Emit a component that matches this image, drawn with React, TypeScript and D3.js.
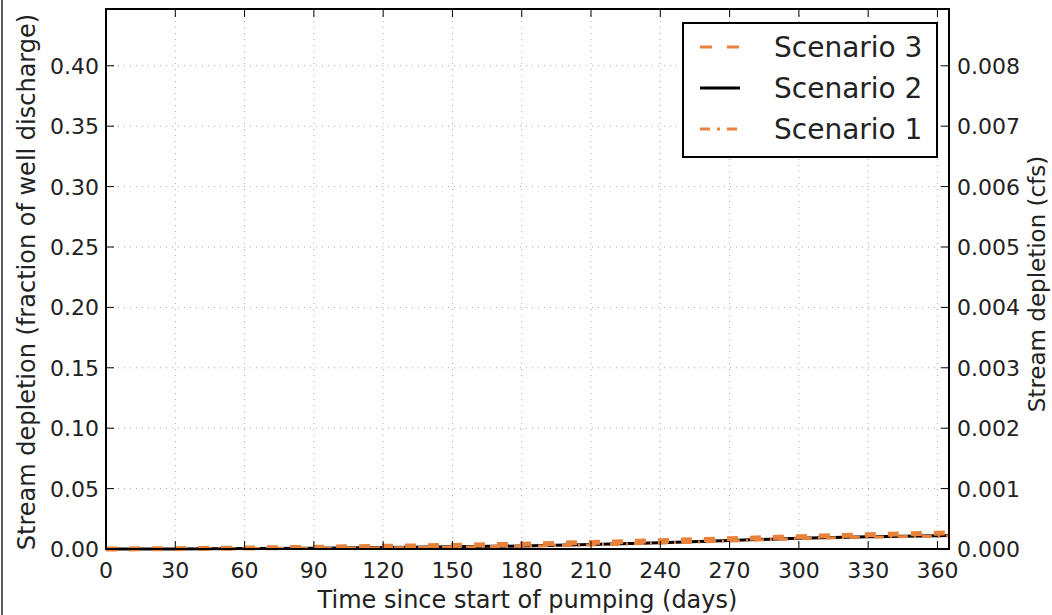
import React from "react";
import * as d3 from "d3";

// values
const days = [0, 30, 60, 90, 120, 150, 180, 210, 240, 270, 300, 330, 360, 365];
const scenario3 = [0, 0.0003, 0.0008, 0.0014, 0.0022, 0.003, 0.004, 0.0054, 0.0069, 0.0085, 0.0102, 0.0118, 0.0131, 0.0133];
const scenario2 = [0, 0.0001, 0.0004, 0.0007, 0.0012, 0.0018, 0.0025, 0.0037, 0.0052, 0.007, 0.009, 0.0102, 0.011, 0.0111];
const scenario1 = [0, 0.0001, 0.0003, 0.0006, 0.001, 0.0016, 0.0023, 0.0034, 0.0049, 0.0066, 0.0086, 0.0098, 0.0106, 0.0107];
const xTicks = [0, 30, 60, 90, 120, 150, 180, 210, 240, 270, 300, 330, 360];
const yTicks = [0, 0.05, 0.1, 0.15, 0.2, 0.25, 0.3, 0.35, 0.4];
const cfsTicks = [0, 0.001, 0.002, 0.003, 0.004, 0.005, 0.006, 0.007, 0.008];
const cfsFactor = 0.02;

const W = 1052;
const H = 615;
const left = 106;
const right = 949;
const top = 9;
const bottom = 549;
const orange = "#e8823a";
const font = "'DejaVu Sans', sans-serif";

const series = [
  { name: "Scenario 3", values: scenario3, color: orange, width: 5, dash: "11,12" },
  { name: "Scenario 2", values: scenario2, color: "#000", width: 3, dash: "" },
  { name: "Scenario 1", values: scenario1, color: orange, width: 3, dash: "10,6,2,6" },
];

export default function App() {
  const x = d3.scaleLinear().domain([0, 365]).range([left, right]);
  const y = d3.scaleLinear().domain([0, 0.447]).range([bottom, top]);
  const y2 = d3.scaleLinear().domain([0, 0.447 * cfsFactor]).range([bottom, top]);
  const line = (vals: number[]) =>
    d3.line<number>().x((_, i) => x(days[i])).y((d) => y(d))(vals) || "";

  const drawOrder = [series[1], series[2], series[0]];

  return (
    <svg width={W} height={H} style={{ position: "absolute", left: 0, top: 0, background: "#fff" }}>
      <rect x={0} y={0} width={W} height={H} fill="#fff" />
      <line x1={2} x2={2} y1={0} y2={H} stroke="#222" strokeWidth={1.5} />

      {/* grid */}
      {xTicks.map((t) => (
        <line key={"gx" + t} x1={x(t)} x2={x(t)} y1={top} y2={bottom} stroke="#aaa" strokeWidth={1} strokeDasharray="1,5" />
      ))}
      {yTicks.map((t) => (
        <line key={"gy" + t} x1={left} x2={right} y1={y(t)} y2={y(t)} stroke="#aaa" strokeWidth={1} strokeDasharray="1,5" />
      ))}

      {/* lines */}
      {drawOrder.map((s) => (
        <path key={s.name} d={line(s.values)} fill="none" stroke={s.color} strokeWidth={s.width} strokeDasharray={s.dash || undefined} />
      ))}

      {/* ticks */}
      {xTicks.map((t) => (
        <g key={"tx" + t}>
          <line x1={x(t)} x2={x(t)} y1={bottom} y2={bottom - 8} stroke="#000" strokeWidth={1} />
          <line x1={x(t)} x2={x(t)} y1={top} y2={top + 8} stroke="#000" strokeWidth={1} />
          <text x={x(t)} y={bottom + 29} textAnchor="middle" fontFamily={font} fontSize={22} fill="#222">{t}</text>
        </g>
      ))}
      {yTicks.map((t) => (
        <g key={"ty" + t}>
          <line x1={left} x2={left + 8} y1={y(t)} y2={y(t)} stroke="#000" strokeWidth={1} />
          <text x={left - 7} y={y(t) + 8} textAnchor="end" fontFamily={font} fontSize={22} fill="#222">{t.toFixed(2)}</text>
        </g>
      ))}
      {cfsTicks.map((t) => (
        <g key={"tc" + t}>
          <line x1={right} x2={right - 8} y1={y2(t)} y2={y2(t)} stroke="#000" strokeWidth={1} />
          <text x={right + 8} y={y2(t) + 8} textAnchor="start" fontFamily={font} fontSize={22} fill="#222">{t.toFixed(3)}</text>
        </g>
      ))}

      <rect x={left} y={top} width={right - left} height={bottom - top} fill="none" stroke="#000" strokeWidth={2} />

      {/* axis labels */}
      <text x={(left + right) / 2} y={608} textAnchor="middle" fontFamily={font} fontSize={24} fill="#222">
        Time since start of pumping (days)
      </text>
      <text transform={`translate(35,${(top + bottom) / 2 + 3}) rotate(-90)`} textAnchor="middle" fontFamily={font} fontSize={24} fill="#222">
        Stream depletion (fraction of well discharge)
      </text>
      <text transform={`translate(1045,${(top + bottom) / 2 + 5}) rotate(-90)`} textAnchor="middle" fontFamily={font} fontSize={23} fill="#222">
        Stream depletion (cfs)
      </text>

      {/* legend */}
      <rect x={683} y={23} width={254} height={134} fill="#fff" stroke="#000" strokeWidth={2} />
      {series.map((s, i) => {
        const cy = 47 + i * 41;
        return (
          <g key={"lg" + s.name}>
            <line x1={700} x2={740} y1={cy} y2={cy} stroke={s.color} strokeWidth={s.width === 5 ? 3 : s.width} strokeDasharray={s.dash ? (s.width === 5 ? "12,15" : "10,7,3,7") : undefined} />
            <text x={774} y={cy + 10} fontFamily={font} fontSize={28} fill="#222">{s.name}</text>
          </g>
        );
      })}
    </svg>
  );
}
